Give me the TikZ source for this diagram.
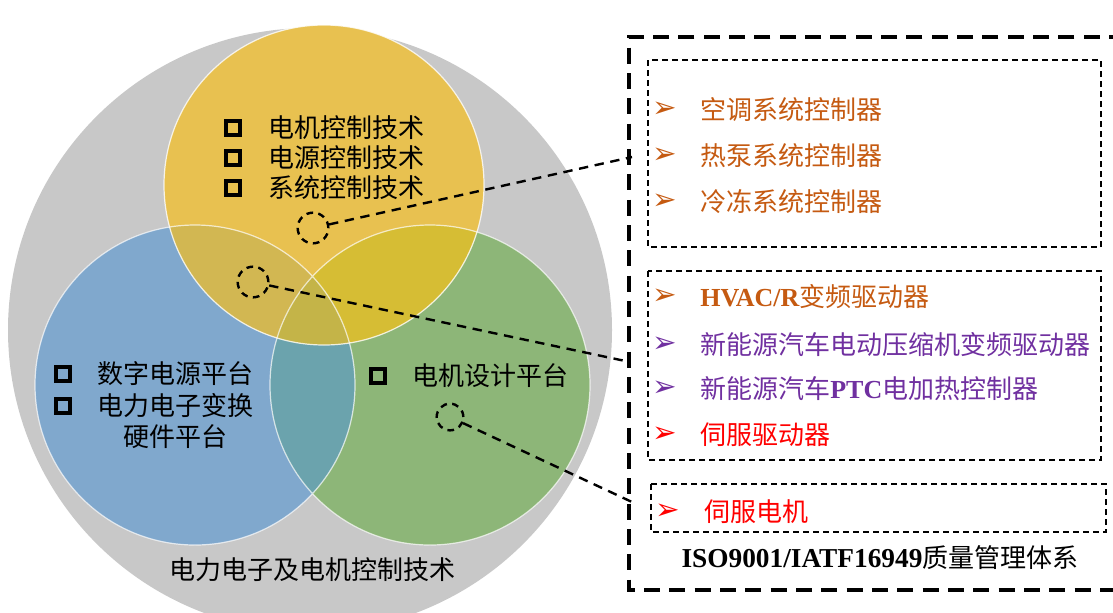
\documentclass[tikz,border=0pt]{standalone}
\usepackage{fontspec}
\setmainfont{Liberation Serif}
\newfontfamily\cjk{Noto Sans CJK SC}
\newfontfamily\symfont{DejaVu Sans}
\definecolor{greybg}{RGB}{200,200,200}
\definecolor{yelc}{RGB}{232,193,80}
\definecolor{bluec}{RGB}{128,168,205}
\definecolor{greenc}{RGB}{141,182,120}
\definecolor{bycol}{RGB}{210,183,82}
\definecolor{gycol}{RGB}{214,189,52}
\definecolor{bgcol}{RGB}{107,163,173}
\definecolor{midcol}{RGB}{196,180,72}
\definecolor{orng}{RGB}{197,90,17}
\definecolor{purp}{RGB}{112,48,160}
\begin{document}
\begin{tikzpicture}[x=0.75pt,y=-0.75pt,
    txt/.style={anchor=west,inner sep=0pt,font=\cjk\fontsize{19.5}{23.5}\selectfont},
    sq/.style={draw,line width=2.8pt,minimum size=11pt,inner sep=0pt},
    bul/.style={inner sep=0pt,font=\symfont\fontsize{22}{22}\selectfont},
    dcirc/.style={circle,draw,line width=1.8pt,dash pattern=on 5pt off 4pt,minimum size=23pt,inner sep=0pt},
    conn/.style={line width=1.8pt,dash pattern=on 7pt off 5pt},
    ibox/.style={line width=1.1pt,dash pattern=on 4.5pt off 3pt}]
    \useasboundingbox (0,0) rectangle (1113,612);
    % circles
    \fill[greybg] (310,330) circle (302);
    \fill[bluec] (195,385) circle (160);
    \fill[greenc] (430,385) circle (160);
    \fill[yelc] (324,185) circle (160);
    \begin{scope}
        \clip (195,385) circle (160);
        \fill[bycol] (324,185) circle (160);
        \fill[bgcol] (430,385) circle (160);
    \end{scope}
    \begin{scope}
        \clip (430,385) circle (160);
        \fill[gycol] (324,185) circle (160);
    \end{scope}
    \begin{scope}
        \clip (195,385) circle (160);
        \clip (430,385) circle (160);
        \fill[midcol] (324,185) circle (160);
    \end{scope}
    \draw[white,line width=0.9pt,opacity=0.7] (195,385) circle (160) (430,385) circle (160);
    \draw[white,line width=0.9pt,opacity=0.8] (324,185) circle (160);
    % top circle
    \node[sq] (s1) at (233,128) {};
    \node[sq] (s2) at (233,158) {};
    \node[sq] (s3) at (233,188) {};
    \node[txt] (t1) at (268,128) {电机控制技术};
    \node[txt] (t2) at (268,158) {电源控制技术};
    \node[txt] (t3) at (268,188) {系统控制技术};
    % left circle
    \node[sq] (s4) at (63,374) {};
    \node[sq] (s5) at (63,406) {};
    \node[txt] (t4) at (97,374) {数字电源平台};
    \node[txt,anchor=north,align=center] (t5) at (175,393) {电力电子变换\\硬件平台};
    % right circle
    \node[sq] (s6) at (378,376) {};
    \node[txt] (t6) at (412,376) {电机设计平台};
    \node[txt,anchor=center] (t7) at (312,570) {电力电子及电机控制技术};
    % dashed marks
    \node[dcirc] (c1) at (313,228) {};
    \node[dcirc] (c2) at (253,282) {};
    \node[dcirc,minimum size=20pt] (c3) at (450,417) {};
    % boxes
    \draw[line width=2.6pt,dash pattern=on 12pt off 7pt] (1125,37) -- (629,37) -- (629,590) -- (1125,590);
    \draw[ibox] (648,60) rectangle (1101,247);
    \draw[ibox] (648,271) rectangle (1101,460);
    \draw[ibox] (651,484) rectangle (1106,532);
    \coordinate (p1) at (632,157);
    \coordinate (p2) at (630,362);
    \coordinate (p3) at (632,502);
    \draw[conn] (c1) -- (p1);
    \draw[conn] (c2) -- (p2);
    \draw[conn] (c3) -- (p3);
    % lists
    \node[bul,text=orng] (b1) at (665,110) {➢};
    \node[bul,text=orng] (b2) at (665,156) {➢};
    \node[bul,text=orng] (b3) at (665,202) {➢};
    \node[txt,text=orng] (r1) at (700,110) {空调系统控制器};
    \node[txt,text=orng] (r2) at (700,156) {热泵系统控制器};
    \node[txt,text=orng] (r3) at (700,202) {冷冻系统控制器};
    \node[bul,text=orng] (b4) at (665,297) {➢};
    \node[bul,text=purp] (b5) at (665,345) {➢};
    \node[bul,text=purp] (b6) at (665,389) {➢};
    \node[bul,text=red] (b7) at (665,435) {➢};
    \node[txt,text=orng] (r4) at (700,297) {{\rmfamily\bfseries HVAC/R}变频驱动器};
    \node[txt,text=purp] (r5) at (700,345) {新能源汽车电动压缩机变频驱动器};
    \node[txt,text=purp] (r6) at (700,389) {新能源汽车{\rmfamily\bfseries PTC}电加热控制器};
    \node[txt,text=red] (r7) at (700,435) {伺服驱动器};
    \node[bul,text=red] (b8) at (668,512) {➢};
    \node[txt,text=red] (r8) at (704,512) {伺服电机};
    \node[txt,anchor=center] (iso) at (880,558) {{\rmfamily\bfseries\fontsize{20.5}{24}\selectfont ISO9001/IATF16949}质量管理体系};
\end{tikzpicture}
\end{document}
